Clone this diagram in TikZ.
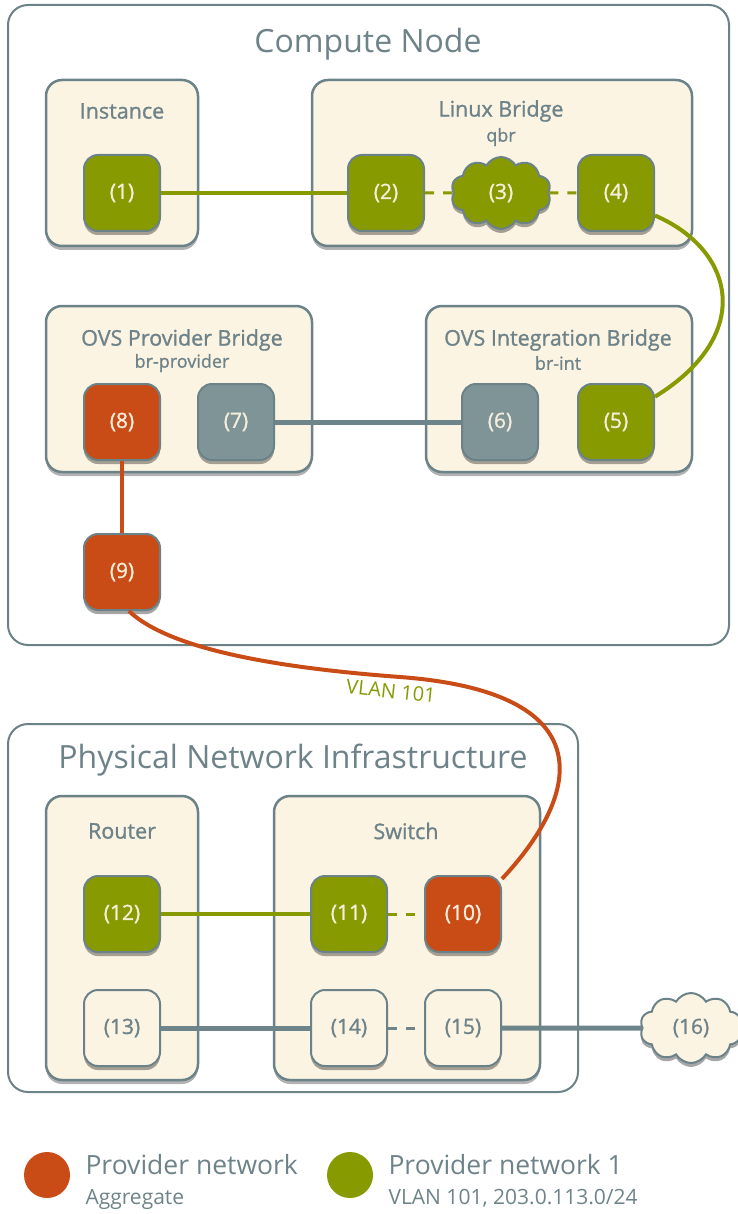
\documentclass[tikz,border=0pt]{standalone}
\usepackage{fontspec}
\setmainfont{Open Sans}
\newfontfamily\semib[FakeBold=1.2]{Open Sans}
\usetikzlibrary{shapes.symbols,shadows}
\definecolor{edge}{HTML}{6C8289}
\definecolor{txt}{HTML}{6E8389}
\definecolor{cream}{HTML}{FCF4E2}
\definecolor{grn}{HTML}{879A00}
\definecolor{org}{HTML}{C94B16}
\definecolor{gry}{HTML}{7F9497}
\definecolor{porttxt}{HTML}{F6EEDB}
\definecolor{link}{HTML}{6D848B}
\begin{document}
\begin{tikzpicture}[x=1pt,y=-1pt,
  outer/.style={draw=edge,line width=2pt,rounded corners=20pt,fill=white,inner sep=0pt},
  container/.style={draw=edge,line width=2.5pt,rounded corners=16pt,fill=cream,inner sep=0pt,
     drop shadow={shadow xshift=0pt,shadow yshift=-4pt,opacity=0.3,fill=black}},
  port/.style={draw=edge,line width=2pt,rounded corners=14pt,minimum width=76pt,minimum height=76pt,
     inner sep=0pt,text=porttxt,font=\semib\fontsize{21}{24}\selectfont,
     drop shadow={shadow xshift=0pt,shadow yshift=-4pt,opacity=0.35,fill=black}},
  gport/.style={port,fill=grn},
  oport/.style={port,fill=org},
  yport/.style={port,fill=gry},
  cport/.style={port,fill=cream,text=txt},
  cloudport/.style={cloud,cloud puffs=10,cloud puff arc=120,aspect=1.4,draw=edge,line width=2pt,inner sep=0pt,
     font=\semib\fontsize{21}{24}\selectfont,
     drop shadow={shadow xshift=0pt,shadow yshift=-4pt,opacity=0.35,fill=black}},
  bigtitle/.style={text=txt,font=\fontsize{32}{36}\selectfont},
  boxtitle/.style={text=txt,font=\semib\fontsize{21.5}{24}\selectfont},
  subtitle/.style={text=txt,font=\semib\fontsize{18}{20}\selectfont},
  glink/.style={draw=grn,line width=4pt},
  gdash/.style={draw=grn,line width=3pt,dash pattern=on 9pt off 9pt},
  ylink/.style={draw=link,line width=5pt},
  ydash/.style={draw=link,line width=3pt,dash pattern=on 9pt off 9pt},
  olink/.style={draw=org,line width=4pt},
  legtitle/.style={text=txt,font=\fontsize{26.5}{30}\selectfont,anchor=base west},
  legsub/.style={text=txt,font=\fontsize{21}{24}\selectfont,anchor=base west},
]
\path[use as bounding box] (0,0) rectangle (737,1214);

% outer boxes
\node[outer,minimum width=721pt,minimum height=640pt] (compute) at (368.5,325) {};
\node[bigtitle] (computeT) at (368,44) {Compute Node};
\node[outer,minimum width=570pt,minimum height=368pt] (phys) at (293,908) {};
\node[bigtitle] (physT) at (293,760) {Physical Network Infrastructure};

% containers
\node[container,minimum width=152pt,minimum height=166pt] (inst) at (122,163) {};
\node[boxtitle] (instT) at (122,111) {Instance};
\node[container,minimum width=380pt,minimum height=166pt] (lb) at (502,163) {};
\node[boxtitle] (lbT) at (501,111) {Linux Bridge};
\node[subtitle] (lbS) at (501,137) {qbr};
\node[container,minimum width=266pt,minimum height=166pt] (ovsp) at (179,389) {};
\node[boxtitle] (ovspT) at (182,340) {OVS Provider Bridge};
\node[subtitle] (ovspS) at (182,363) {br-provider};
\node[container,minimum width=266pt,minimum height=166pt] (ovsi) at (559,389) {};
\node[boxtitle] (ovsiT) at (558,340) {OVS Integration Bridge};
\node[subtitle] (ovsiS) at (558,363) {br-int};
\node[container,minimum width=152pt,minimum height=284pt] (router) at (122,938) {};
\node[boxtitle] (routerT) at (122,831) {Router};
\node[container,minimum width=266pt,minimum height=284pt] (switch) at (407,938) {};
\node[boxtitle] (switchT) at (406,831) {Switch};

% ports
\node[gport] (n1) at (122,193) {(1)};
\node[gport] (n2) at (386,193) {(2)};
\node[cloudport,fill=grn,text=porttxt,minimum width=100pt,minimum height=72pt] (n3) at (501,193) {(3)};
\node[gport] (n4) at (616,193) {(4)};
\node[gport] (n5) at (616,422) {(5)};
\node[yport] (n6) at (500,422) {(6)};
\node[yport] (n7) at (236,422) {(7)};
\node[oport] (n8) at (122,422) {(8)};
\node[oport] (n9) at (122,572) {(9)};
\node[oport] (n10) at (463,914) {(10)};
\node[gport] (n11) at (349,914) {(11)};
\node[gport] (n12) at (122,914) {(12)};
\node[cport] (n13) at (122,1028) {(13)};
\node[cport] (n14) at (349,1028) {(14)};
\node[cport] (n15) at (463,1028) {(15)};
\node[cloudport,fill=cream,text=txt,minimum width=102pt,minimum height=70pt] (n16) at (691,1028) {(16)};

% connectors
\path[glink] (n1) -- (n2);
\path[gdash] (n2) -- (n3);
\path[gdash] (n3) -- (n4);
\path[glink] (n4.-30) .. controls (735,250) and (755,335) .. (n5.33);
\path[ylink] (n7) -- (n6);
\path[olink,line width=3.5pt] (n8) -- (n9);
\path[olink] (n9.-80) .. controls (170,650) and (280,668) .. (400,677)
   .. controls (600,692) and (585,790) .. (n10.42);
\path[glink] (n12) -- (n11);
\path[gdash] (n11) -- (n10);
\path[ylink] (n13) -- (n14);
\path[ydash] (n14) -- (n15);
\path[ylink] (n15) -- (n16);

\node[text=grn,font=\fontsize{20}{24}\selectfont,rotate=-6] (vlan) at (391,691) {VLAN 101};

% legend
\fill[org] (47,1175) circle (23pt);
\node[legtitle] (leg1) at (82,1174) {Provider network};
\node[legsub] (leg1s) at (82,1204) {Aggregate};
\fill[grn] (350,1175) circle (23pt);
\node[legtitle] (leg2) at (385,1174) {Provider network 1};
\node[legsub] (leg2s) at (385,1204) {VLAN 101, 203.0.113.0/24};
\end{tikzpicture}
\end{document}
